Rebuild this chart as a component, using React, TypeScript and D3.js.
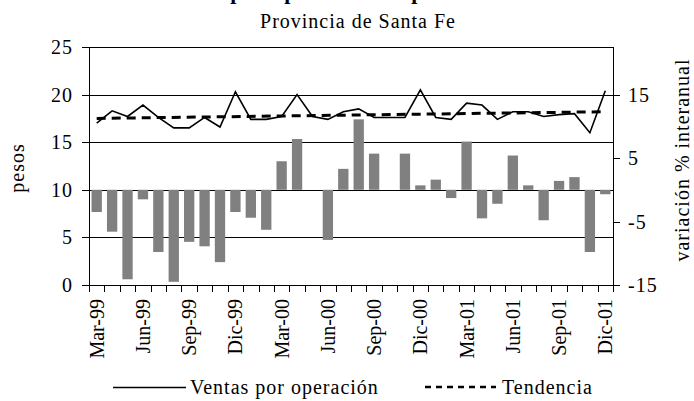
import React from "react";
import * as d3 from "d3";

const categories = [
  "Mar-99","Abr-99","May-99","Jun-99","Jul-99","Ago-99","Sep-99","Oct-99","Nov-99","Dic-99",
  "Ene-00","Feb-00","Mar-00","Abr-00","May-00","Jun-00","Jul-00","Ago-00","Sep-00","Oct-00","Nov-00","Dic-00",
  "Ene-01","Feb-01","Mar-01","Abr-01","May-01","Jun-01","Jul-01","Ago-01","Sep-01","Oct-01","Nov-01","Dic-01",
];
const tickLabels = ["Mar-99","Jun-99","Sep-99","Dic-99","Mar-00","Jun-00","Sep-00","Dic-00","Mar-01","Jun-01","Sep-01","Dic-01"];

const ventas = [
  17.0, 18.3, 17.7, 18.9, 17.6, 16.5, 16.5, 17.6, 16.6, 20.3,
  17.4, 17.4, 17.7, 20.0, 17.7, 17.4, 18.2, 18.5, 17.6, 17.6, 17.6, 20.5,
  17.6, 17.4, 19.1, 18.9, 17.4, 18.2, 18.2, 17.7, 17.9, 18.0, 16.0, 20.4,
];
const variacion = [
  -3.5, -6.6, -14.1, -1.5, -9.8, -14.5, -8.2, -8.9, -11.4, -3.5,
  -4.4, -6.3, 4.5, 8.0, 0, -7.9, 3.3, 11.1, 5.7, 0, 5.7, 0.7,
  1.6, -1.3, 7.6, -4.5, -2.2, 5.4, 0.7, -4.8, 1.4, 2.0, -9.8, -0.7,
];
// Linear trend line: values at first and last category
const tendencia = [17.5, 18.2];

const leftTicks = [0, 5, 10, 15, 20, 25];
const rightTicks = [-15, -5, 5, 15];

const FONT = "'Liberation Serif', 'Times New Roman', serif";

export default function App() {
  const W = 694, H = 401;
  const left = 89, right = 613, top = 47, bottom = 285;

  const x = d3.scaleBand<string>().domain(categories).range([left, right]).paddingInner(0.33).paddingOuter(0.165);
  const step = x.step();
  const cx = (c: string) => (x(c) as number) + x.bandwidth() / 2;
  const yL = d3.scaleLinear().domain([0, 25]).range([bottom, top]);
  const yR = d3.scaleLinear().domain([-15, 22.5]).range([bottom, top]);

  const line = d3.line<number>().x((_, i) => cx(categories[i])).y((d) => yL(d));
  const trendPts: [number, number][] = [
    [cx(categories[0]), yL(tendencia[0])],
    [cx(categories[categories.length - 1]), yL(tendencia[1])],
  ];

  const boundaries = d3.range(categories.length + 1).map((i) => left + i * step);

  return (
    <svg width={W} height={H} style={{ position: "absolute", left: 0, top: 0, display: "block", background: "#fff" }} fontFamily={FONT}>
      {/* Title (cut off at top, as in the reference) */}
      <text x={155} y={-1} fontSize={22} fontWeight="bold" letterSpacing={1}>Ventas por operación en pesos</text>
      <text x={358} y={28} fontSize={20} textAnchor="middle" letterSpacing={1}>Provincia de Santa Fe</text>

      {/* gridlines */}
      {leftTicks.map((t) => (
        <line key={"g" + t} x1={left} x2={right} y1={Math.round(yL(t)) + 0.5} y2={Math.round(yL(t)) + 0.5} stroke="#000" strokeWidth={1} />
      ))}

      {/* bars */}
      {variacion.map((v, i) => {
        const y0 = yR(0), y1 = yR(v);
        return (
          <rect key={"b" + i} x={x(categories[i])} width={x.bandwidth()} y={Math.min(y0, y1)} height={Math.abs(y1 - y0)} fill="#808080" />
        );
      })}

      {/* axes */}
      <line x1={left + 0.5} x2={left + 0.5} y1={top} y2={bottom + 1} stroke="#000" />
      <line x1={right + 0.5} x2={right + 0.5} y1={top} y2={bottom + 1} stroke="#000" />
      <line x1={left} x2={right + 1} y1={Math.round(yL(0)) + 0.5} y2={Math.round(yL(0)) + 0.5} stroke="#000" />
      {leftTicks.map((t) => (
        <g key={"lt" + t}>
          <line x1={left - 7} x2={left} y1={Math.round(yL(t)) + 0.5} y2={Math.round(yL(t)) + 0.5} stroke="#000" />
          <text x={73} y={yL(t)} dy="0.35em" fontSize={20} textAnchor="end" letterSpacing={1}>{t}</text>
        </g>
      ))}
      {rightTicks.map((t) => (
        <g key={"rt" + t}>
          <line x1={right} x2={right + 7} y1={Math.round(yR(t)) + 0.5} y2={Math.round(yR(t)) + 0.5} stroke="#000" />
          <text x={628} y={yR(t)} dy="0.35em" fontSize={20} textAnchor="start" letterSpacing={1}>{t}</text>
        </g>
      ))}
      {boundaries.map((bx, i) => (
        <line key={"xt" + i} x1={Math.round(bx) + 0.5} x2={Math.round(bx) + 0.5} y1={bottom} y2={bottom + 7} stroke="#000" />
      ))}
      {tickLabels.map((lab) => (
        <text key={"xl" + lab} transform={`translate(${cx(lab)},299) rotate(-90)`} dy="0.35em" fontSize={20} textAnchor="end">{lab}</text>
      ))}

      {/* axis titles */}
      <text transform="rotate(-90)" x={-168} y={24} fontSize={20} textAnchor="middle" letterSpacing={1}>pesos</text>
      <text transform="rotate(-90)" x={-160} y={689} fontSize={20} textAnchor="middle" letterSpacing={1}>variación % interanual</text>

      {/* lines */}
      <path d={line(ventas) || ""} fill="none" stroke="#000" strokeWidth={1.6} strokeLinejoin="miter" />
      <line x1={trendPts[0][0]} y1={trendPts[0][1]} x2={trendPts[1][0]} y2={trendPts[1][1]} stroke="#000" strokeWidth={3} strokeDasharray="9 6" />

      {/* legend */}
      <line x1={113} x2={186} y1={387.5} y2={387.5} stroke="#000" strokeWidth={1.5} />
      <text x={190} y={394} fontSize={20} letterSpacing={1}>Ventas por operación</text>
      <line x1={425} x2={496} y1={387} y2={387} stroke="#000" strokeWidth={2.5} strokeDasharray="6 5" />
      <text x={502} y={394} fontSize={20} letterSpacing={1}>Tendencia</text>
    </svg>
  );
}
